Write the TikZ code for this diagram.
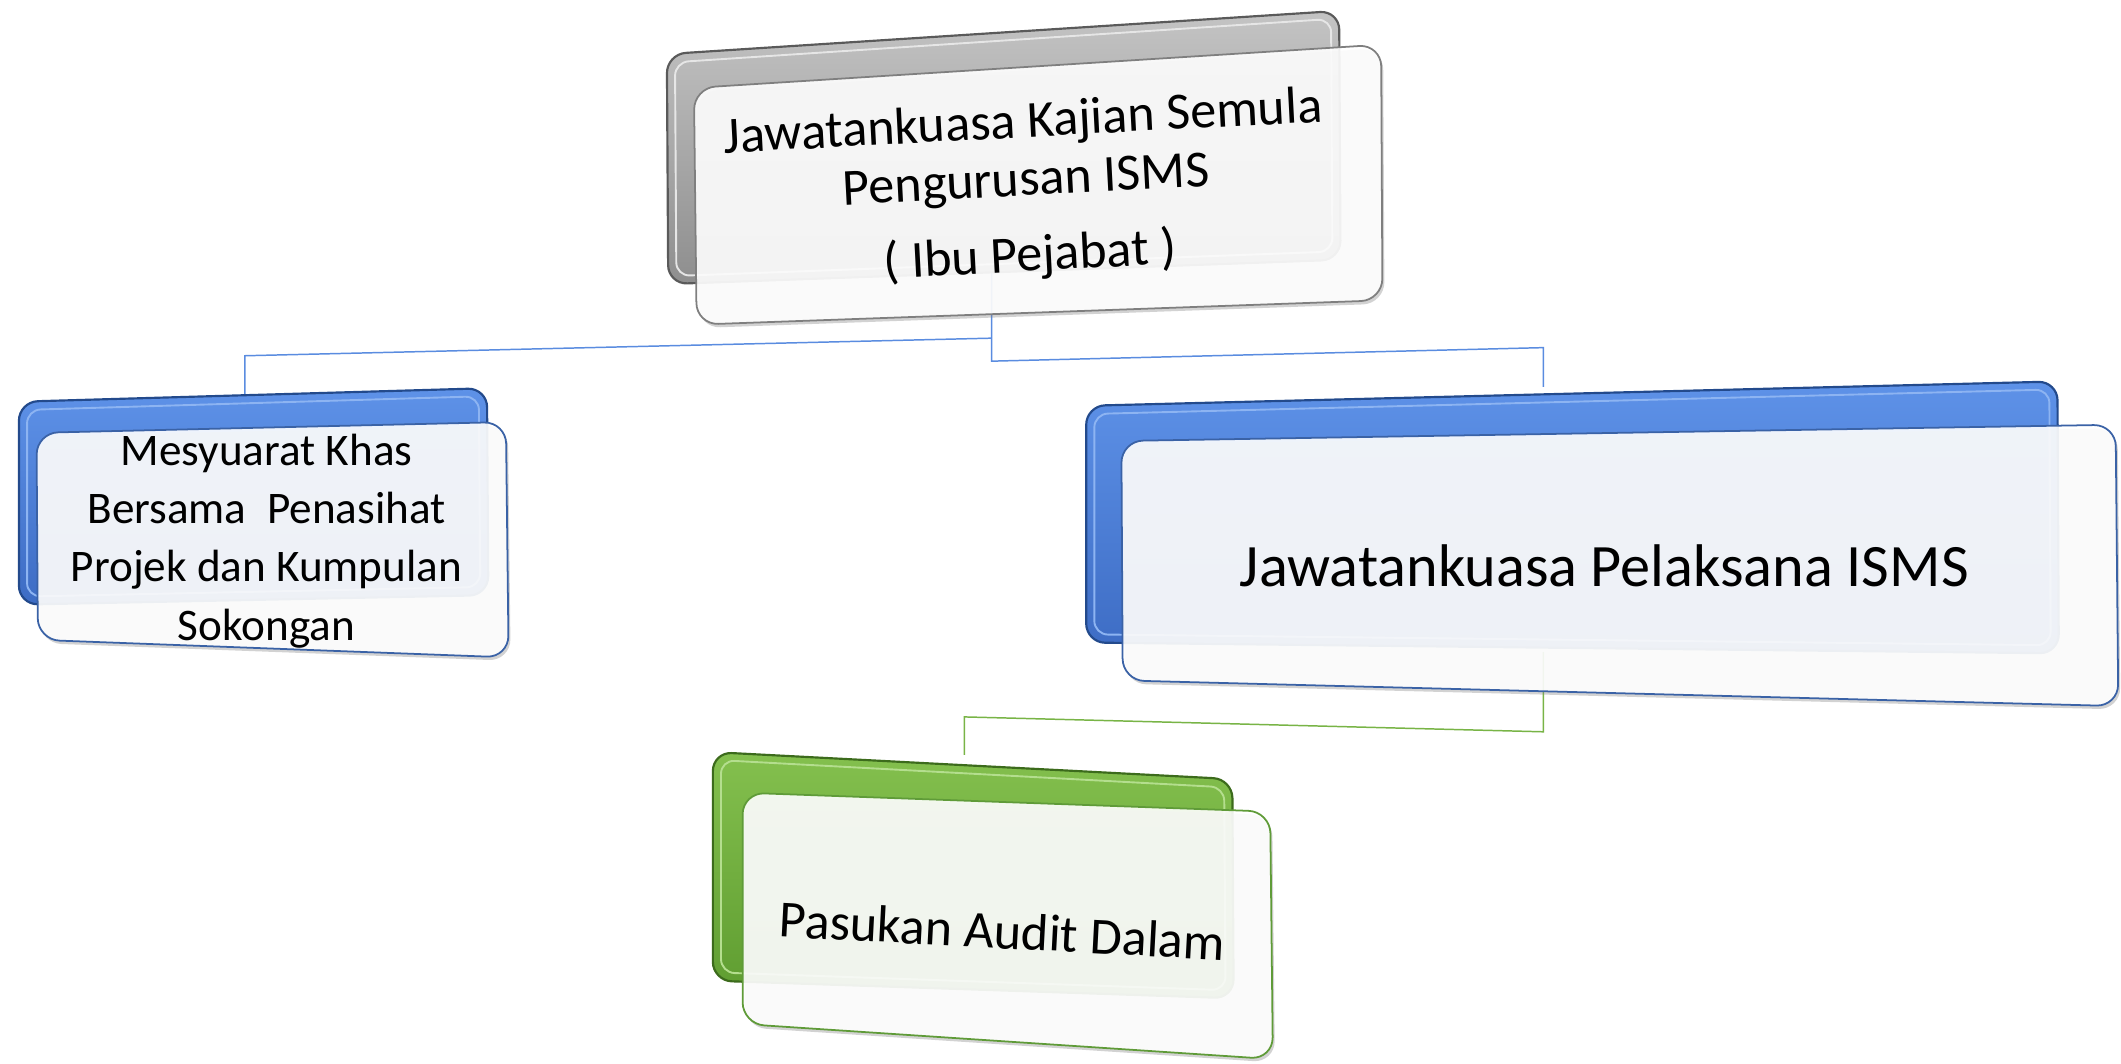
\documentclass[tikz,border=0pt]{standalone}
\usepackage{fontspec}
\setmainfont{Carlito}
\usetikzlibrary{shadows,calc}
\definecolor{grayTop}{HTML}{C4C4C4}
\definecolor{grayBot}{HTML}{8E8E8E}
\definecolor{grayEdge}{HTML}{5A5A5A}
\definecolor{grayIn}{HTML}{E6E6E6}
\definecolor{grayLine}{HTML}{7F7F7F}
\definecolor{blueTop}{HTML}{5E92E8}
\definecolor{blueBot}{HTML}{3D6CC4}
\definecolor{blueEdge}{HTML}{234A8C}
\definecolor{blueIn}{HTML}{8DB4F2}
\definecolor{blueLine}{HTML}{3A62A6}
\definecolor{blueConn}{HTML}{5A8CE0}
\definecolor{greenTop}{HTML}{84C04E}
\definecolor{greenBot}{HTML}{5E9C30}
\definecolor{greenEdge}{HTML}{3C6B1C}
\definecolor{greenIn}{HTML}{B4DE8E}
\definecolor{greenLine}{HTML}{5F9B38}
\definecolor{greenConn}{HTML}{78B446}
\begin{document}
\begin{tikzpicture}[x=1pt,y=-1pt,
  backgray/.style={top color=grayTop,bottom color=grayBot,draw=grayEdge,line width=1.6pt,rounded corners=14pt},
  backblue/.style={top color=blueTop,bottom color=blueBot,draw=blueEdge,line width=1.6pt,rounded corners=14pt},
  backgreen/.style={top color=greenTop,bottom color=greenBot,draw=greenEdge,line width=1.6pt,rounded corners=14pt},
  bevel/.style={draw=#1,line width=1.4pt,rounded corners=10pt},
  front/.style={fill=white,fill opacity=0.9,draw=#1,draw opacity=1,line width=1.3pt,rounded corners=16pt,
    drop shadow={shadow xshift=1.5pt,shadow yshift=-2.5pt,opacity=0.35}},
  conn/.style={draw=#1,line width=1.1pt},
  txt/.style={align=center,text=black,inner sep=0pt}]
\useasboundingbox (0,0) rectangle (1568,786);
\fill[white] (0,0) rectangle (1568,786);
% --- box corner coordinates ---
% top (gray)
\coordinate (tb1) at (493,40);  \coordinate (tb2) at (990,8);
\coordinate (tb3) at (991,192); \coordinate (tb4) at (494,210);
\coordinate (tf1) at (513,65);  \coordinate (tf2) at (1021,33);
\coordinate (tf3) at (1022,222);\coordinate (tf4) at (515,240);
% left (blue)
\coordinate (lb1) at (14,297);  \coordinate (lb2) at (360,287);
\coordinate (lb3) at (361,440); \coordinate (lb4) at (14,447);
\coordinate (lf1) at (27,320);  \coordinate (lf2) at (374,312);
\coordinate (lf3) at (376,486); \coordinate (lf4) at (28,473);
% right (blue)
\coordinate (rb1) at (803,300); \coordinate (rb2) at (1521,282);
\coordinate (rb3) at (1522,483);\coordinate (rb4) at (803,475);
\coordinate (rf1) at (829,326); \coordinate (rf2) at (1564,314);
\coordinate (rf3) at (1566,522);\coordinate (rf4) at (830,503);
% green
\coordinate (gb1) at (527,556); \coordinate (gb2) at (911,576);
\coordinate (gb3) at (912,738); \coordinate (gb4) at (527,725);
\coordinate (gf1) at (549,586); \coordinate (gf2) at (939,600);
\coordinate (gf3) at (941,783); \coordinate (gf4) at (549,757);
% --- connector points ---
\coordinate (topOut) at (733,192);
\coordinate (jL) at (733,250);
\coordinate (jR) at (733,267);
\coordinate (lTurn) at (181,263);
\coordinate (lIn) at (181,292);
\coordinate (rTurn) at (1141,257);
\coordinate (rIn) at (1141,286);
\coordinate (rOut) at (1141,482);
\coordinate (gTurnR) at (1141,541);
\coordinate (gTurnL) at (713,530);
\coordinate (gIn) at (713,558);
% --- connectors ---
\draw[conn=blueConn] (topOut) -- (jR) -- (rTurn) -- (rIn);
\draw[conn=blueConn] (jL) -- (lTurn) -- (lIn);
\draw[conn=greenConn] (rOut) -- (gTurnR) -- (gTurnL) -- (gIn);
% --- back boxes ---
\path[backgray] (tb1) -- (tb2) -- (tb3) -- (tb4) -- cycle;
\path[bevel=grayIn] ($(tb1)+(6,6)$) -- ($(tb2)+(-6,6)$) -- ($(tb3)+(-6,-6)$) -- ($(tb4)+(6,-6)$) -- cycle;
\path[backblue] (lb1) -- (lb2) -- (lb3) -- (lb4) -- cycle;
\path[bevel=blueIn] ($(lb1)+(6,6)$) -- ($(lb2)+(-6,6)$) -- ($(lb3)+(-6,-6)$) -- ($(lb4)+(6,-6)$) -- cycle;
\path[backblue] (rb1) -- (rb2) -- (rb3) -- (rb4) -- cycle;
\path[bevel=blueIn] ($(rb1)+(6,6)$) -- ($(rb2)+(-6,6)$) -- ($(rb3)+(-6,-6)$) -- ($(rb4)+(6,-6)$) -- cycle;
\path[backgreen] (gb1) -- (gb2) -- (gb3) -- (gb4) -- cycle;
\path[bevel=greenIn] ($(gb1)+(6,6)$) -- ($(gb2)+(-6,6)$) -- ($(gb3)+(-6,-6)$) -- ($(gb4)+(6,-6)$) -- cycle;
% --- front boxes ---
\path[front=grayLine] (tf1) -- (tf2) -- (tf3) -- (tf4) -- cycle;
\path[front=blueLine] (lf1) -- (lf2) -- (lf3) -- (lf4) -- cycle;
\path[front=blueLine] (rf1) -- (rf2) -- (rf3) -- (rf4) -- cycle;
\path[front=greenLine] (gf1) -- (gf2) -- (gf3) -- (gf4) -- cycle;
% --- texts ---
\node[txt,rotate=3,font=\fontsize{38.5}{43}\selectfont] (tTop) at (759,141)
  {Jawatankuasa Kajian Semula\\Pengurusan ISMS\\[13pt]( Ibu Pejabat )};
\node[txt,font=\fontsize{33.4}{43}\selectfont] (tLeft) at (197,400)
  {Mesyuarat Khas\\Bersama\ \ Penasihat\\Projek dan Kumpulan\\Sokongan};
\node[txt,font=\fontsize{44.5}{50}\selectfont] (tRight) at (1186,418)
  {Jawatankuasa Pelaksana ISMS};
\node[txt,rotate=-3,font=\fontsize{38.5}{44}\selectfont] (tGreen) at (741,688)
  {Pasukan Audit Dalam};
\end{tikzpicture}
\end{document}
